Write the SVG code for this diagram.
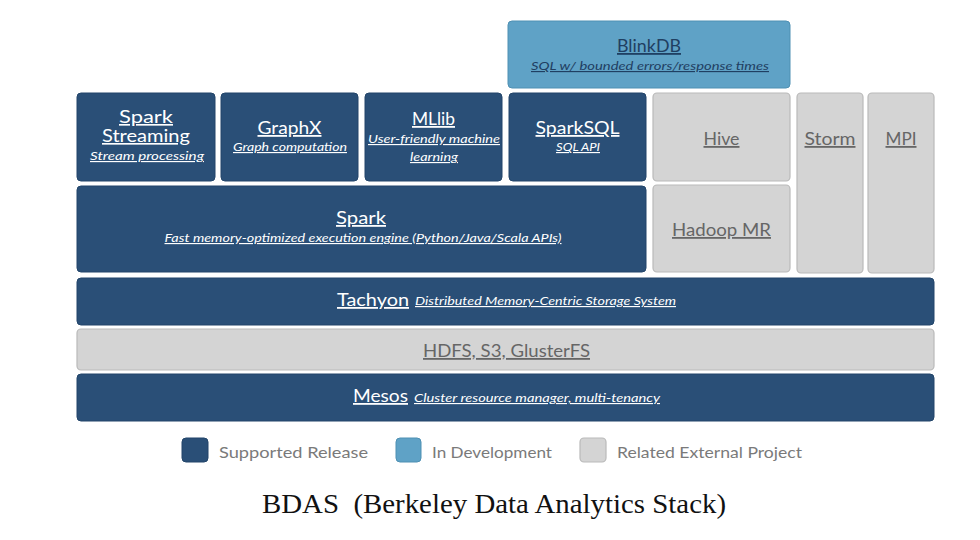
<svg xmlns="http://www.w3.org/2000/svg" width="980" height="540" viewBox="0 0 980 540">
<style>
.dark{fill:#2a4f77;stroke:#23456a;stroke-width:1}
.dev{fill:#5fa2c6;stroke:#4f90b3;stroke-width:1}
.ext{fill:#d4d4d4;stroke:#b9b9b9;stroke-width:1.2}
text{font-family:Lato,"Noto Sans","Liberation Sans",sans-serif;text-anchor:middle;text-decoration:underline}
.t{font-size:18px;fill:#ffffff}
.t2{font-size:16.5px;fill:#ffffff}
.s{font-size:11.5px;font-style:italic;fill:#ffffff}
.td{font-size:18px;fill:#1f3f62}
.sd{font-size:11.5px;font-style:italic;fill:#1f3f62}
.tg{font-size:18px;fill:#666666}
.leg{font-size:15px;fill:#7a7a7a;text-anchor:start;text-decoration:none}
.cap{font-family:"Liberation Serif","Times New Roman",serif;font-size:27px;fill:#111111;text-decoration:none}
</style>
<rect width="980" height="540" fill="#ffffff"/>
<g id="blinkdb">
<rect class="dev" x="508" y="21" width="282" height="67" rx="4"/>
<text class="td" x="649" y="52" textLength="64" lengthAdjust="spacingAndGlyphs">BlinkDB</text>
<text class="sd" x="650" y="70" textLength="238" lengthAdjust="spacingAndGlyphs">SQL w/ bounded errors/response times</text>
</g>
<g id="spark-streaming">
<rect class="dark" x="77" y="93" width="138" height="88" rx="4"/>
<text class="t2" x="146" y="123" textLength="54" lengthAdjust="spacingAndGlyphs">Spark</text>
<text class="t2" x="146" y="142" textLength="88" lengthAdjust="spacingAndGlyphs">Streaming</text>
<text class="s" x="147" y="160" textLength="114" lengthAdjust="spacingAndGlyphs">Stream processing</text>
</g>
<g id="graphx">
<rect class="dark" x="221" y="93" width="137" height="88" rx="4"/>
<text class="t" x="289.5" y="134" textLength="64" lengthAdjust="spacingAndGlyphs">GraphX</text>
<text class="s" x="290" y="151" textLength="114" lengthAdjust="spacingAndGlyphs">Graph computation</text>
</g>
<g id="mllib">
<rect class="dark" x="365" y="93" width="137" height="88" rx="4"/>
<text class="t" x="433.5" y="125" textLength="43" lengthAdjust="spacingAndGlyphs">MLlib</text>
<text class="s" x="434" y="143" textLength="132" lengthAdjust="spacingAndGlyphs">User-friendly machine</text>
<text class="s" x="434" y="161" textLength="48" lengthAdjust="spacingAndGlyphs">learning</text>
</g>
<g id="sparksql">
<rect class="dark" x="509" y="93" width="137" height="88" rx="4"/>
<text class="t" x="577.5" y="134" textLength="84" lengthAdjust="spacingAndGlyphs">SparkSQL</text>
<text class="s" x="578" y="151" textLength="44" lengthAdjust="spacingAndGlyphs">SQL API</text>
</g>
<g id="hive">
<rect class="ext" x="653" y="93" width="137" height="88" rx="4"/>
<text class="tg" x="721.5" y="145" textLength="36" lengthAdjust="spacingAndGlyphs">Hive</text>
</g>
<g id="storm">
<rect class="ext" x="797" y="93" width="66" height="180" rx="4"/>
<text class="tg" x="830" y="145" textLength="51" lengthAdjust="spacingAndGlyphs">Storm</text>
</g>
<g id="mpi">
<rect class="ext" x="868" y="93" width="66" height="180" rx="4"/>
<text class="tg" x="901" y="145" textLength="31" lengthAdjust="spacingAndGlyphs">MPI</text>
</g>
<g id="spark">
<rect class="dark" x="77" y="186" width="569" height="86" rx="4"/>
<text class="t" x="361" y="224" textLength="50" lengthAdjust="spacingAndGlyphs">Spark</text>
<text class="s" x="363" y="242" textLength="397" lengthAdjust="spacingAndGlyphs">Fast memory-optimized execution engine (Python/Java/Scala APIs)</text>
</g>
<g id="hadoop-mr">
<rect class="ext" x="653" y="185" width="137" height="87" rx="4"/>
<text class="tg" x="721.5" y="236" textLength="99" lengthAdjust="spacingAndGlyphs">Hadoop MR</text>
</g>
<g id="tachyon">
<rect class="dark" x="77" y="278" width="857" height="47" rx="4"/>
<text class="t" x="373" y="306" textLength="72" lengthAdjust="spacingAndGlyphs">Tachyon</text>
<text class="s" x="545.5" y="305" textLength="261" lengthAdjust="spacingAndGlyphs">Distributed Memory-Centric Storage System</text>
</g>
<g id="storage">
<rect class="ext" x="77" y="329" width="857" height="41" rx="4"/>
<text class="tg" x="506.5" y="357" textLength="167" lengthAdjust="spacingAndGlyphs">HDFS, S3, GlusterFS</text>
</g>
<g id="mesos">
<rect class="dark" x="77" y="374" width="857" height="47" rx="4"/>
<text class="t" x="380.5" y="402" textLength="55" lengthAdjust="spacingAndGlyphs">Mesos</text>
<text class="s" x="537" y="402" textLength="246" lengthAdjust="spacingAndGlyphs">Cluster resource manager, multi-tenancy</text>
</g>
<g id="legend">
<rect class="dark" x="182" y="438" width="26" height="24" rx="4"/>
<text class="leg" x="219" y="458" textLength="149" lengthAdjust="spacingAndGlyphs">Supported Release</text>
<rect class="dev" x="396" y="438" width="25" height="24" rx="4"/>
<text class="leg" x="432" y="458" textLength="120" lengthAdjust="spacingAndGlyphs">In Development</text>
<rect class="ext" x="580" y="438" width="26" height="24" rx="4"/>
<text class="leg" x="617" y="458" textLength="185" lengthAdjust="spacingAndGlyphs">Related External Project</text>
</g>
<g id="caption">
<text class="cap" x="494" y="513" textLength="464" lengthAdjust="spacingAndGlyphs" xml:space="preserve">BDAS  (Berkeley Data Analytics Stack)</text>
</g>
<g id="connectors"></g>
</svg>
